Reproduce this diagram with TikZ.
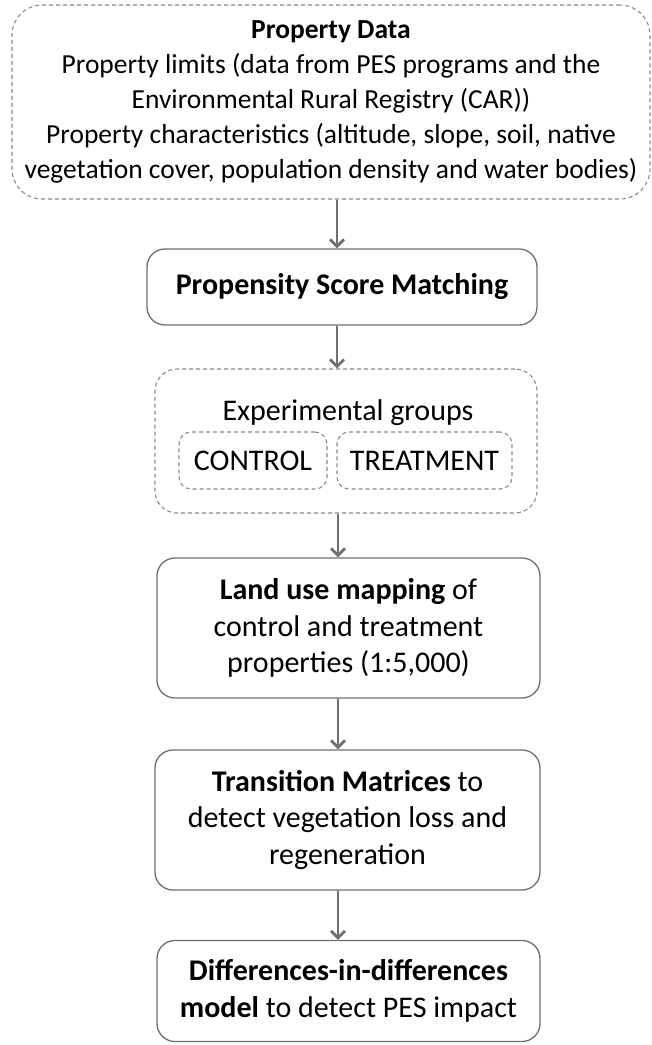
\documentclass[tikz,border=0pt]{standalone}
\usepackage{fontspec}
\setmainfont{Carlito}
\usetikzlibrary{arrows.meta}
\definecolor{boxline}{HTML}{6E6E6E}
\definecolor{dashline}{HTML}{8A8A8A}
\definecolor{arrowgray}{HTML}{707070}
\tikzset{
  solidbox/.style={draw=boxline, line width=1.3pt, rounded corners=18pt, align=center, inner sep=0pt},
  dashbox/.style={draw=dashline, line width=1.1pt, dash pattern=on 4pt off 3pt, rounded corners=22pt, align=center, inner sep=0pt},
  flow/.style={draw=arrowgray, line width=2.8pt, -{Straight Barb[length=7pt,width=14pt,line width=2.8pt]}},
  topfont/.style={font=\fontsize{27.5}{35}\selectfont},
  bigfont/.style={font=\fontsize{30}{36.5}\selectfont},
}
\begin{document}
\begin{tikzpicture}[x=1pt,y=-1pt]
\useasboundingbox (0,0) rectangle (652,1045);
% top dashed box
\node[dashbox, rounded corners=30pt, minimum width=638pt, minimum height=194pt, topfont] (data) at (331,102)
  {\textbf{Property Data}\\Property limits (data from PES programs and the\\Environmental Rural Registry (CAR))\\Property characteristics (altitude, slope, soil, native\\vegetation cover, population density and water bodies)};
% propensity
\node[solidbox, minimum width=390pt, minimum height=76pt, bigfont] (psm) at (342,287) {\textbf{Propensity Score Matching}};
% experimental groups
\node[dashbox, minimum width=382pt, minimum height=144pt] (exp) at (346,441) {};
\node[bigfont] (explabel) at (348,413) {Experimental groups};
\node[dashbox, rounded corners=12pt, minimum width=148pt, minimum height=57pt, bigfont] (ctrl) at (253,460.5) {CONTROL};
\node[dashbox, rounded corners=12pt, minimum width=175pt, minimum height=57pt, bigfont] (treat) at (424.5,460.5) {TREATMENT};
% land use
\node[solidbox, minimum width=383pt, minimum height=140pt, bigfont] (land) at (348.5,628) {\textbf{Land use mapping} of\\control and treatment\\properties (1:5,000)};
% transition
\node[solidbox, minimum width=385pt, minimum height=140pt, bigfont] (trans) at (347.5,820) {\textbf{Transition Matrices} to\\detect vegetation loss and\\regeneration};
% did
\node[solidbox, minimum width=383pt, minimum height=101pt, bigfont] (did) at (348.5,991) {\textbf{Differences-in-differences}\\\textbf{model} to detect PES impact};
% arrows
\draw[flow] (data.south -| 337,0) -- (psm.north -| 337,0);
\draw[flow] (psm.south -| 337,0) -- (exp.north -| 337,0);
\draw[flow] (exp.south -| 338,0) -- (land.north -| 338,0);
\draw[flow] (land.south -| 338,0) -- (trans.north -| 338,0);
\draw[flow] (trans.south -| 338,0) -- (did.north -| 338,0);
\end{tikzpicture}
\end{document}
